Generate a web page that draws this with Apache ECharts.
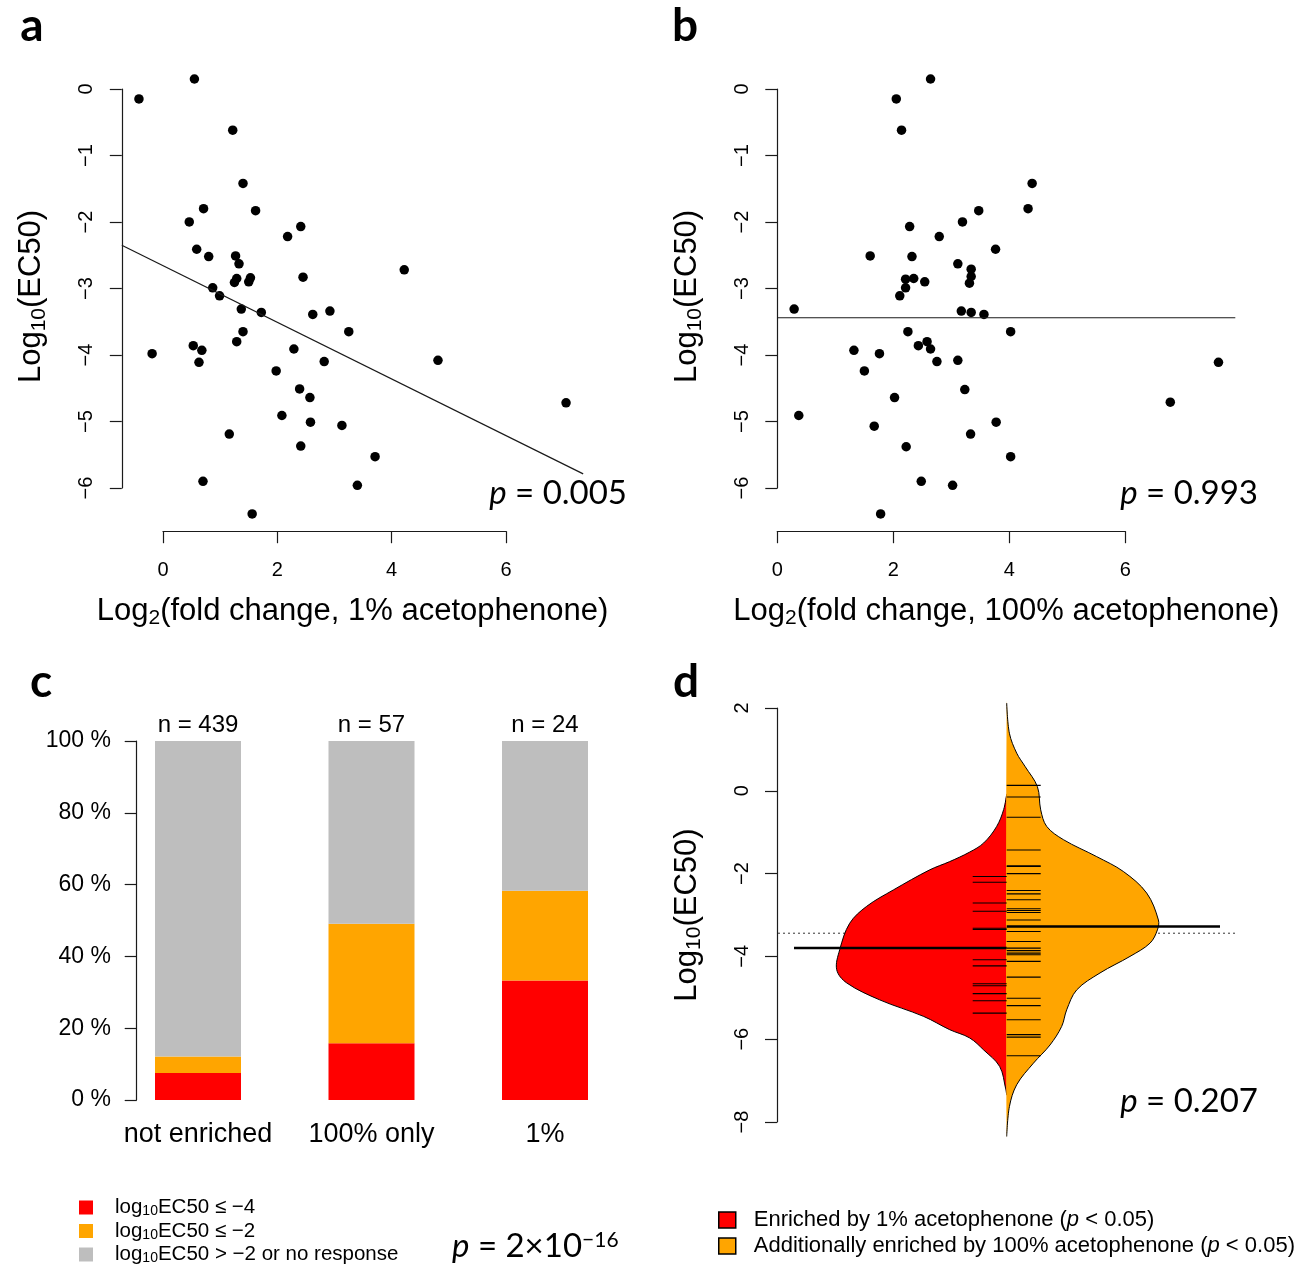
<!DOCTYPE html>
<html>
<head>
<meta charset="utf-8">
<script src="https://cdn.jsdelivr.net/npm/echarts@6/dist/echarts.min.js"></script>
<style>
  html, body { margin: 0; background: #fff; }
  #main { width: 1311px; height: 1268px; }
</style>
</head>
<body>
<div id="main"></div>
<script>
// a: [log2 fold change 1%, log10 EC50]
const pointsA = [[-0.42,-0.15],[0.55,0.15],[1.22,-0.62],[1.40,-1.42],[0.71,-1.80],[1.62,-1.83],[0.46,-2.00],[2.18,-2.22],[2.41,-2.07],[0.59,-2.41],[0.80,-2.52],[1.27,-2.51],[1.33,-2.63],[1.29,-2.85],[1.25,-2.91],[1.53,-2.84],[1.50,-2.90],[2.45,-2.83],[0.87,-2.99],[0.99,-3.11],[1.37,-3.31],[1.72,-3.36],[2.62,-3.39],[2.92,-3.34],[3.25,-3.65],[1.40,-3.65],[1.29,-3.80],[0.53,-3.86],[0.68,-3.93],[0.63,-4.11],[-0.19,-3.98],[2.29,-3.91],[2.82,-4.10],[1.98,-4.24],[2.39,-4.51],[2.57,-4.64],[2.08,-4.91],[2.58,-5.01],[3.13,-5.06],[1.16,-5.19],[2.41,-5.37],[0.70,-5.90],[1.56,-6.39],[3.40,-5.96],[4.22,-2.72],[4.81,-4.08],[7.05,-4.72],[3.71,-5.53]]
const fitA = { intercept: -2.657, slope: -0.426 }

// b: [log2 fold change 100%, log10 EC50]
const pointsB = [[2.64,0.15],[2.05,-0.15],[2.14,-0.62],[4.39,-1.42],[3.47,-1.83],[4.32,-1.80],[3.19,-2.00],[2.28,-2.07],[2.79,-2.22],[3.76,-2.41],[1.60,-2.51],[2.32,-2.52],[3.11,-2.63],[3.34,-2.71],[3.34,-2.82],[3.31,-2.92],[2.21,-2.86],[2.35,-2.85],[2.54,-2.90],[2.21,-2.99],[2.11,-3.11],[0.29,-3.31],[3.17,-3.34],[3.34,-3.36],[3.56,-3.39],[2.25,-3.65],[4.02,-3.65],[2.58,-3.80],[2.43,-3.86],[2.64,-3.91],[1.32,-3.93],[1.76,-3.98],[2.75,-4.10],[3.11,-4.08],[7.60,-4.11],[1.50,-4.24],[3.23,-4.52],[2.02,-4.64],[6.77,-4.71],[0.37,-4.91],[3.77,-5.01],[1.67,-5.07],[3.33,-5.19],[2.22,-5.38],[4.02,-5.53],[2.48,-5.90],[3.02,-5.96],[1.78,-6.39]]
const fitB = { intercept: -3.44, slope: 0 }

// c: stacked shares in %
const groupsC = ['not enriched', '100% only', '1%']
const countsC = [439, 57, 24]
const strongC = [7.5, 15.8, 33.3]
const mediumC = [4.6, 33.3, 25.0]
const weakC = [87.9, 50.9, 41.7]
const namesC = ['log10EC50 ≤ −4', 'log10EC50 ≤ −2', 'log10EC50 > −2 or no response']

// d: bean plot, [log10 EC50, half width]
const redDensity = [[-0.08,0],[-0.45,0.03],[-0.86,0.10],[-1.26,0.23],[-1.48,0.37],[-1.71,0.57],[-1.91,0.77],[-2.39,1.13],[-2.79,1.40],[-3.20,1.57],[-3.84,1.67],[-4.32,1.70],[-4.64,1.60],[-5.05,1.27],[-5.45,0.83],[-5.77,0.57],[-5.97,0.37],[-6.26,0.23],[-6.66,0.07],[-7.20,0.01],[-7.35,0]]
const orangeDensity = [[2.12,0],[1.39,0.027],[0.91,0.10],[0.59,0.183],[0.10,0.307],[-0.46,0.34],[-0.86,0.40],[-1.18,0.567],[-1.59,0.90],[-1.95,1.167],[-2.47,1.40],[-3.12,1.517],[-3.36,1.507],[-3.68,1.433],[-4.00,1.233],[-4.40,0.933],[-4.81,0.70],[-5.29,0.60],[-5.69,0.55],[-6.14,0.433],[-6.58,0.267],[-7.10,0.10],[-7.63,0.027],[-8.35,0]]
const rugRed = [-2.07,-2.21,-2.71,-2.91,-3.32,-3.35,-4.08,-4.23,-4.66,-4.71,-4.90,-5.07,-5.37]
const rugOrange = [0.13,-0.15,-0.64,-1.43,-1.81,-1.83,-2.00,-2.41,-2.49,-2.63,-2.85,-2.89,-2.94,-3.12,-3.40,-3.64,-3.80,-3.86,-3.92,-3.96,-4.12,-4.50,-5.01,-5.19,-5.53,-5.89,-5.95,-6.40]
const meanRed = -3.80
const meanOrange = -3.28
const meanAll = -3.44
const namesD = ['Enriched by 1% acetophenone (p < 0.05)', 'Additionally enriched by 100% acetophenone (p < 0.05)']

const pTexts = ['0.005', '0.993', '2×10{sup|−16}', '0.207']

const sans = '"Liberation Sans", Arial, sans-serif'
const calib = 'Lato, "Open Sans", sans-serif'
const ink = '#1a1a1a'
const minus = v => String(v).replace('-', '\u2212')
const subRich = { s: { fontSize: 21, fontFamily: sans, verticalAlign: 'top', padding: [15, 0, 0, 0] } }

const fitLine = (fit, x0, x1) => [[x0, fit.intercept + fit.slope * x0], [x1, fit.intercept + fit.slope * x1]]

// R style axis pieces
const rLine = { show: true, onZero: false, lineStyle: { color: ink, width: 1.2 } }
const rTick = { show: true, inside: false, length: 12, lineStyle: { color: ink, width: 1.2 } }
const hidden = { show: false }

function dataAxis(grid, min, max, name, gap) {
  return {
    gridIndex: grid, type: 'value', min, max,
    axisLine: { show: false, onZero: false }, axisTick: hidden, axisLabel: hidden, splitLine: hidden,
    name, nameLocation: 'middle', nameGap: gap,
    nameTextStyle: { fontSize: 31, fontFamily: sans, color: '#000', rich: subRich }
  }
}
function tickAxis(grid, min, max, interval, offset, rotate) {
  return {
    gridIndex: grid, type: 'value', min, max, interval, offset,
    axisLine: rLine, axisTick: rTick, splitLine: hidden,
    axisLabel: { fontSize: 20, fontFamily: sans, color: '#000', margin: rotate ? 25 : 29, rotate: rotate ? 90 : 0, formatter: minus }
  }
}

function hLine(x0, x1, style) {
  return function (params, api) {
    const v = api.value(1)
    const p0 = api.coord([x0, v])
    const p1 = api.coord([x1, v])
    return { type: 'line', shape: { x1: p0[0], y1: p0[1], x2: p1[0], y2: p1[1] }, style: Object.assign({ stroke: '#000', lineWidth: 1 }, style) }
  }
}
function bean(density, side, color) {
  return function (params, api) {
    const pts = density.map(d => api.coord([side * d[1], d[0]]))
    return {
      type: 'group',
      children: [
        { type: 'polygon', shape: { points: pts, smooth: 0.35 }, style: { fill: color } },
        { type: 'polyline', shape: { points: pts, smooth: 0.35 }, style: { fill: null, stroke: '#000', lineWidth: 1 } }
      ]
    }
  }
}

const chart = echarts.init(document.getElementById('main'))
const option = {
  animation: false,
  backgroundColor: '#fff',
  grid: [
    { left: 121.8, top: 61.7, width: 461.4, height: 469.5 },
    { left: 163, top: 89, width: 343, height: 399 },
    { left: 777.3, top: 61.7, width: 458, height: 469.5 },
    { left: 777.3, top: 89, width: 348, height: 399 },
    { left: 111.25, top: 741, width: 520.5, height: 359 },
    { left: 777, top: 708, width: 459, height: 414 }
  ],
  xAxis: [
    dataAxis(0, -0.72, 7.35, 'Log{s|2}(fold change, 1% acetophenone)', 62),
    tickAxis(1, 0, 6, 2, 43.2, false),
    dataAxis(2, 0, 7.89, 'Log{s|2}(fold change, 100% acetophenone)', 62),
    tickAxis(3, 0, 6, 2, 43.2, false),
    {
      gridIndex: 4, type: 'category', data: groupsC,
      axisLine: hidden, axisTick: hidden,
      axisLabel: { interval: 0, fontSize: 27, fontFamily: sans, color: '#000', margin: 21 }
    },
    { gridIndex: 5, type: 'value', min: -2.297, max: 2.293, show: false }
  ],
  yAxis: [
    dataAxis(0, -6.65, 0.41, 'Log{s|10}(EC50)', 72),
    tickAxis(1, -6, 0, 1, 41.2, true),
    dataAxis(2, -6.65, 0.41, 'Log{s|10}(EC50)', 72),
    tickAxis(3, -6, 0, 1, 0, true),
    {
      gridIndex: 4, type: 'value', min: 0, max: 100, interval: 20, offset: -25.45,
      axisLine: rLine, axisTick: rTick, splitLine: hidden,
      axisLabel: { fontSize: 23, fontFamily: sans, color: '#000', margin: 25.7, formatter: '{value} %' }
    },
    Object.assign(tickAxis(5, -8, 2, 2, 0, true), {
      name: 'Log{s|10}(EC50)', nameLocation: 'middle', nameGap: 72,
      nameTextStyle: { fontSize: 31, fontFamily: sans, color: '#000', rich: subRich }
    })
  ],
  legend: [
    {
      data: namesC, orient: 'vertical', left: 79, top: 1197, height: 90, padding: 0, icon: 'rect',
      itemWidth: 14, itemHeight: 14, itemGap: 2, selectedMode: false,
      textStyle: { fontSize: 20.5, fontFamily: sans, color: '#000', padding: [0, 0, 0, 17], rich: { s: { fontSize: 14, fontFamily: sans, verticalAlign: 'top', padding: [8, 0, 0, 0] } } },
      formatter: n => n.replace('log10', 'log{s|10}')
    },
    {
      data: namesD.map(n => ({ name: n, itemStyle: { borderColor: '#000', borderWidth: 1.5 } })),
      orient: 'vertical', left: 718, top: 1209, height: 80, padding: 0, icon: 'rect',
      itemWidth: 17, itemHeight: 16, itemGap: 4, selectedMode: false,
      textStyle: { fontSize: 22, fontFamily: sans, color: '#000', padding: [0, 0, 0, 13], rich: { i: { fontSize: 22, fontFamily: sans, fontStyle: 'italic' } } },
      formatter: n => n.replace('(p', '({i|p}')
    }
  ],
  graphic: [
    ...['a', 'b', 'c', 'd'].map((t, i) => ({
      type: 'text', x: [32, 685, 41, 686][i], y: [26, 26, 682, 682][i],
      style: { text: t, fontSize: 46, fontWeight: 'bold', fontFamily: calib, fill: '#000', align: 'center', verticalAlign: 'middle' }
    })),
    ...pTexts.map((t, i) => ({
      type: 'text', x: [627, 1258, 452, 1258][i], y: [493, 493, 1246, 1101][i],
      style: {
        text: '{i|p} = ' + t, fontSize: 33, fontFamily: calib, fill: '#000',
        align: i === 2 ? 'left' : 'right', verticalAlign: 'middle',
        rich: {
          i: { fontSize: 33, fontFamily: calib, fontStyle: 'italic' },
          sup: { fontSize: 21, fontFamily: calib, verticalAlign: 'top' }
        }
      }
    }))
  ],
  series: [
    { type: 'scatter', xAxisIndex: 0, yAxisIndex: 0, data: pointsA, symbolSize: 9.5, itemStyle: { color: '#000', opacity: 1 } },
    { type: 'line', xAxisIndex: 0, yAxisIndex: 0, data: fitLine(fitA, -0.72, 7.35), symbol: 'none', lineStyle: { color: ink, width: 1.2 } },
    { type: 'scatter', xAxisIndex: 2, yAxisIndex: 2, data: pointsB, symbolSize: 9.5, itemStyle: { color: '#000', opacity: 1 } },
    { type: 'line', xAxisIndex: 2, yAxisIndex: 2, data: fitLine(fitB, 0, 7.89), symbol: 'none', lineStyle: { color: ink, width: 1.2 } },

    { name: namesC[0], type: 'bar', stack: 'c', xAxisIndex: 4, yAxisIndex: 4, barWidth: 86, data: strongC, itemStyle: { color: '#ff0000' } },
    { name: namesC[1], type: 'bar', stack: 'c', xAxisIndex: 4, yAxisIndex: 4, barWidth: 86, data: mediumC, itemStyle: { color: '#ffa500' } },
    {
      name: namesC[2], type: 'bar', stack: 'c', xAxisIndex: 4, yAxisIndex: 4, barWidth: 86, data: weakC, itemStyle: { color: '#bebebe' },
      label: { show: true, position: 'top', distance: 4, fontSize: 24, fontFamily: sans, color: '#000', formatter: p => 'n = ' + countsC[p.dataIndex] }
    },

    { type: 'custom', xAxisIndex: 5, yAxisIndex: 5, data: [[0, meanAll]], renderItem: hLine(-2.287, 2.293, { stroke: '#333', lineDash: [2, 3] }) },
    { name: namesD[0], type: 'custom', xAxisIndex: 5, yAxisIndex: 5, data: [[0, 0]], itemStyle: { color: '#ff0000' }, renderItem: bean(redDensity, -1, '#ff0000') },
    { name: namesD[1], type: 'custom', xAxisIndex: 5, yAxisIndex: 5, data: [[0, 0]], itemStyle: { color: '#ffa500' }, renderItem: bean(orangeDensity, 1, '#ffa500') },
    { type: 'custom', xAxisIndex: 5, yAxisIndex: 5, data: rugRed.map(v => [0, v]), renderItem: hLine(-0.34, 0, { lineWidth: 1.1 }) },
    { type: 'custom', xAxisIndex: 5, yAxisIndex: 5, data: rugOrange.map(v => [0, v]), renderItem: hLine(0, 0.34, { lineWidth: 1.1 }) },
    { type: 'custom', xAxisIndex: 5, yAxisIndex: 5, data: [[0, meanRed]], renderItem: hLine(-2.127, 0, { lineWidth: 2.5 }) },
    { type: 'custom', xAxisIndex: 5, yAxisIndex: 5, data: [[0, meanOrange]], renderItem: hLine(0, 2.133, { lineWidth: 2.5 }) }
  ]
}
chart.setOption(option)
</script>
</body>
</html>
